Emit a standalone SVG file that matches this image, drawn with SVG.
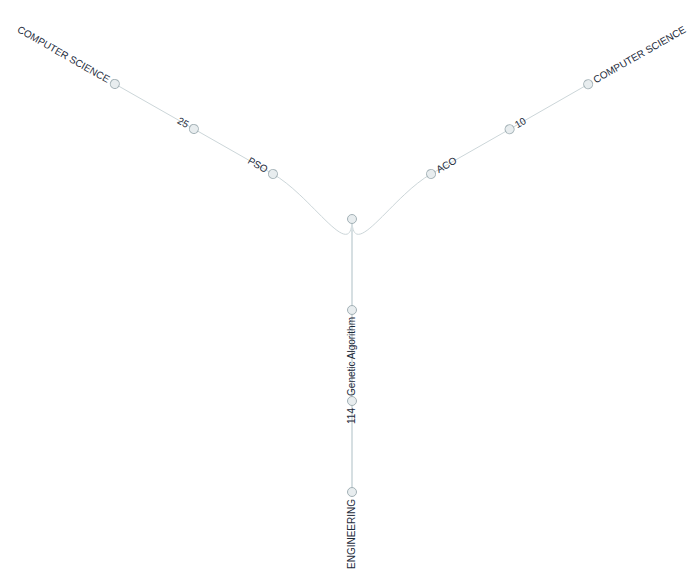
<svg xmlns="http://www.w3.org/2000/svg" width="695" height="575" viewBox="0 0 695 575">
<style>
.link{fill:none;stroke:#ccd6d9;stroke-width:1}
.link.thick{stroke:#d6dfe2;stroke-width:2}
.node circle{fill:#e8edef;stroke:#a3b1b6;stroke-width:1}
.node text{font-family:"Liberation Sans",Arial,sans-serif;font-size:10px;fill:#1c2a3a}
</style>
<rect width="695" height="575" fill="#ffffff"/>
<g id="links">
<path class="link" d="M352,219 C352,264.5 312.46,196.48 272.93,173.95"/>
<path class="link" d="M272.93,173.95 L193.86,128.91"/>
<path class="link" d="M193.86,128.91 L114.8,83.9"/>
<path class="link" d="M352,219 C352,264.5 391.54,196.48 431.07,173.95"/>
<path class="link" d="M431.07,173.95 L509.6,129.2"/>
<path class="link" d="M509.6,129.2 L588.2,84.2"/>
<path class="link thick" d="M352,219 L352,310"/>
<path class="link thick" d="M352,310 L352,401"/>
<path class="link thick" d="M352,401 L352,492"/>
</g>
<g id="node-root" class="node" transform="translate(352,219)"><circle r="4.5"/></g>
<g id="node-pso" class="node" transform="translate(272.93,173.95) rotate(29.67)"><circle r="4.5"/><text x="-7" dy="0.31em" text-anchor="end">PSO</text></g>
<g id="node-25" class="node" transform="translate(193.86,128.91) rotate(29.67)"><circle r="4.5"/><text x="-7" dy="0.31em" text-anchor="end">25</text></g>
<g id="node-cs-left" class="node" transform="translate(114.8,83.9) rotate(29.67)"><circle r="4.5"/><text x="-7" dy="0.31em" text-anchor="end">COMPUTER SCIENCE</text></g>
<g id="node-aco" class="node" transform="translate(431.07,173.95) rotate(-29.67)"><circle r="4.5"/><text x="7" dy="0.31em" text-anchor="start">ACO</text></g>
<g id="node-10" class="node" transform="translate(509.6,129.2) rotate(-29.67)"><circle r="4.5"/><text x="7" dy="0.31em" text-anchor="start">10</text></g>
<g id="node-cs-right" class="node" transform="translate(588.2,84.2) rotate(-29.67)"><circle r="4.5"/><text x="7" dy="0.31em" text-anchor="start">COMPUTER SCIENCE</text></g>
<g id="node-ga" class="node" transform="translate(352,310) rotate(-90)"><circle r="4.5"/><text x="-7" dy="0.31em" text-anchor="end">Genetic Algorithm</text></g>
<g id="node-114" class="node" transform="translate(352,401) rotate(-90)"><circle r="4.5"/><text x="-7" dy="0.31em" text-anchor="end">114</text></g>
<g id="node-eng" class="node" transform="translate(352,492) rotate(-90)"><circle r="4.5"/><text x="-7" dy="0.31em" text-anchor="end">ENGINEERING</text></g>
</svg>
